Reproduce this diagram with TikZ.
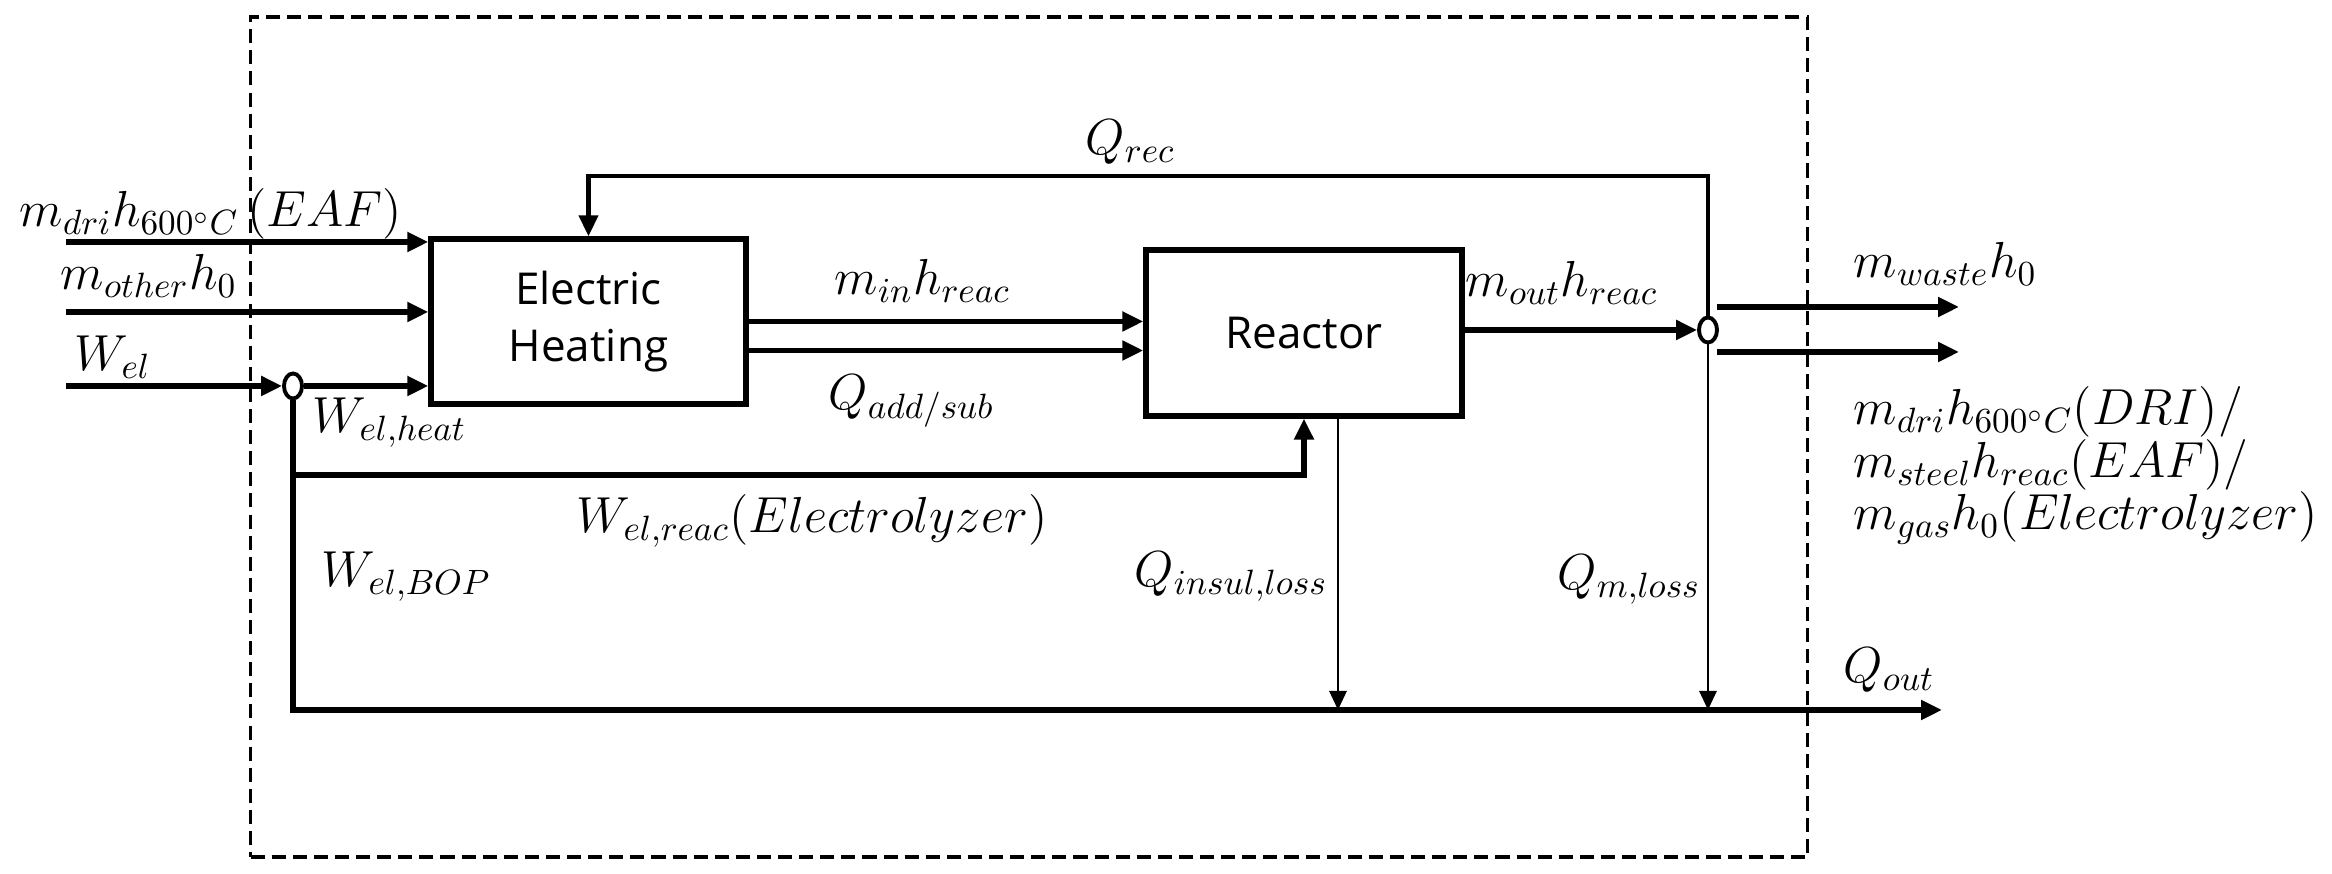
\documentclass[tikz,border=0pt]{standalone}
\usepackage{fontspec}
\newfontfamily\boxfont{Open Sans}
\usetikzlibrary{arrows.meta,shapes.geometric}
\begin{document}
\begin{tikzpicture}[x=0.01cm,y=-0.01cm,
  lbl/.style={anchor=base west, inner sep=0pt, font=\fontsize{14.4}{18}\selectfont},
  blk/.style={draw, line width=1.5pt, inner sep=0pt, font=\boxfont\fontsize{12.5}{16}\selectfont, align=center},
  flow/.style={line width=1.5pt, -{Triangle[length=0.21cm,width=0.19cm]}},
  thinflow/.style={line width=0.8pt, -{Triangle[length=0.19cm,width=0.17cm]}},
  pipe/.style={line width=1.2pt},
  jn/.style={draw, ellipse, line width=1.1pt, minimum width=0.18cm, minimum height=0.25cm, inner sep=0pt, fill=white},
  sysb/.style={draw, dash pattern=on 4pt off 2pt, line width=1.1pt, inner sep=0pt}]
\useasboundingbox (0,0) rectangle (2332,874);
\node[sysb, minimum width=15.56cm, minimum height=8.4cm] (sys) at (1029,437) {};
\node[blk, minimum width=3.15cm, minimum height=1.65cm] (eh) at (588.5,321.5) {Electric\\Heating};
\node[blk, minimum width=3.16cm, minimum height=1.66cm] (rx) at (1304,333) {Reactor};
\node[jn] (j1) at (293,386) {};
\node[jn] (j2) at (1708,330) {};
\coordinate (i1) at (66,242);
\coordinate (i2) at (66,312);
\coordinate (i3) at (66,386);
\coordinate (wr) at (293,475);
\coordinate (qo) at (1942,710);
\coordinate (qi) at (1338,710);
\coordinate (qr) at (1708,176);
\coordinate (qm) at (1708,710);
\coordinate (o1s) at (1717,307);
\coordinate (o1e) at (1959,307);
\coordinate (o2s) at (1717,352);
\coordinate (o2e) at (1959,352);
% inputs
\draw[flow] (i1) -- (i1 -| eh.west);
\draw[flow] (i2) -- (i2 -| eh.west);
\draw[flow] (i3) -- (j1.west);
\draw[flow] (j1.east) -- (j1.east -| eh.west);
% electric branches
\draw[flow] (j1.south) |- (qo);
\draw[flow] (wr) -| (rx.south);
% heating to reactor
\draw[flow] (eh.east) -- (eh.east -| rx.west);
\draw[flow] ([yshift=-0.29cm]eh.east) -- ([yshift=-0.29cm]eh.east -| rx.west);
% reactor out
\draw[flow] (j2 -| rx.east) -- (j2.west);
\draw[thinflow] (qi |- rx.south) -- (qi);
% recovery
\draw[pipe, -{Triangle[length=0.21cm,width=0.19cm]}] (j2.north) -- (qr) -| (eh.north);
\draw[thinflow] (j2.south) -- (qm);
% outputs
\draw[flow] (o1s) -- (o1e);
\draw[flow] (o2s) -- (o2e);
% labels
\node[lbl] (l1) at (19,227) {$m_{dri}h_{600{}^{\circ}C}\,(EAF)$};
\node[lbl] (l2) at (60,290) {$m_{other}h_0$};
\node[lbl] (l3) at (74,371) {$W_{el}$};
\node[lbl] (l4) at (312,433) {$W_{el,heat}$};
\node[lbl] (l5) at (834,295) {$m_{in}h_{reac}$};
\node[lbl] (l6) at (828,410) {$Q_{add/sub}$};
\node[lbl] (l7) at (1085,155) {$Q_{rec}$};
\node[lbl] (l8) at (1465,297) {$m_{out}h_{reac}$};
\node[lbl] (l9) at (1853,278) {$m_{waste}h_0$};
\node[lbl] (l10) at (1853,425) {$m_{dri}h_{600{}^{\circ}C}(DRI)/$};
\node[lbl] (l11) at (1853,478) {$m_{steel}h_{reac}(EAF)/$};
\node[lbl] (l12) at (1853,530) {$m_{gas}h_0(Electrolyzer)$};
\node[lbl] (l13) at (576,533) {$W_{el,reac}(Electrolyzer)$};
\node[lbl] (l14) at (321,587) {$W_{el,BOP}$};
\node[lbl] (l15) at (1134,587) {$Q_{insul,loss}$};
\node[lbl] (l16) at (1557,590) {$Q_{m,loss}$};
\node[lbl] (l17) at (1843,683) {$Q_{out}$};
\end{tikzpicture}
\end{document}
